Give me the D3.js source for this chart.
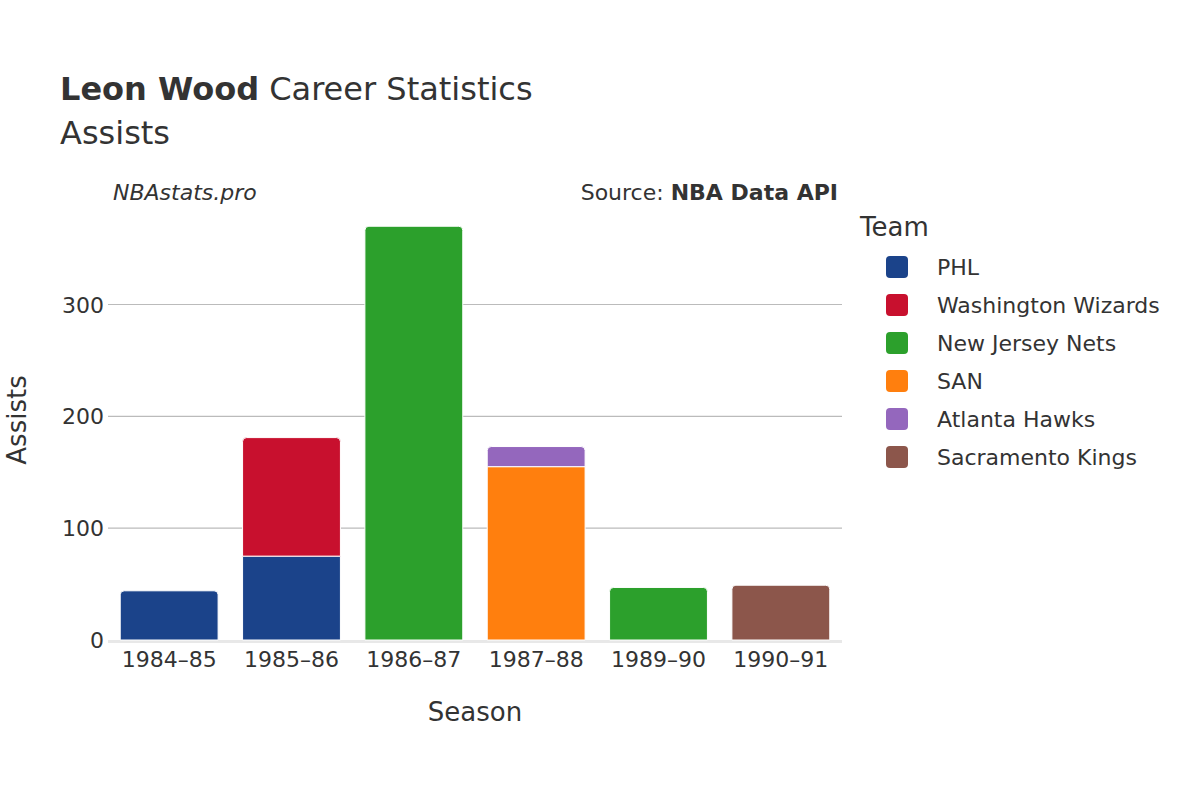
<!DOCTYPE html>
<html><head><meta charset="utf-8">
<script src="https://cdn.jsdelivr.net/npm/d3@7"></script>
<style>body{margin:0;background:#fff}text{font-family:"DejaVu Sans",sans-serif;fill:#333}</style>
</head><body><svg id="c" width="1200" height="800"></svg>
<script>
const seasons=["1984–85","1985–86","1986–87","1987–88","1989–90","1990–91"];
const teams=["PHL","Washington Wizards","New Jersey Nets","SAN","Atlanta Hawks","Sacramento Kings"];
const colors=["#1b438a","#c8102e","#2ca02c","#ff7f0e","#9467bd","#8c564b"];
// values[team][season]
const PHL=[44,75,0,0,0,0];
const WAS=[0,106,0,0,0,0];
const NJN=[0,0,370,0,47,0];
const SAN=[0,0,0,155,0,0];
const ATL=[0,0,0,18,0,0];
const SAC=[0,0,0,0,0,49];
const values=[PHL,WAS,NJN,SAN,ATL,SAC];
const yTicks=[0,100,200,300];

const svg=d3.select("#c");
const L=108,R=842,T=205,B=640;
const x=d3.scaleBand().domain(seasons).range([L,R]).paddingInner(0.2).paddingOuter(0.1);
const y=d3.scaleLinear().domain([0,389]).range([B,T]);

svg.append("g").selectAll("line").data(yTicks.slice(1)).join("line")
 .attr("x1",L).attr("x2",R).attr("y1",d=>y(d)).attr("y2",d=>y(d)).attr("stroke","#bbb").attr("stroke-width",1.2);
svg.append("line").attr("x1",L).attr("x2",R).attr("y1",B+1.5).attr("y2",B+1.5).attr("stroke","#e8e8e8").attr("stroke-width",3);

function barPath(x0,w,y0,y1,r){
  r=Math.min(r,(y0-y1)/2);
  return `M${x0},${y0}V${y1+r}Q${x0},${y1} ${x0+r},${y1}H${x0+w-r}Q${x0+w},${y1} ${x0+w},${y1+r}V${y0}Z`;
}
seasons.forEach((s,i)=>{
  let cum=0;const segs=[];
  values.forEach((v,t)=>{if(v[i]>0){segs.push({t,a:cum,b:cum+v[i]});cum+=v[i];}});
  segs.forEach((sg,k)=>{
    const top=k===segs.length-1;
    svg.append("path").attr("d",barPath(x(s),x.bandwidth(),y(sg.a),y(sg.b),top?4:0))
     .attr("fill",colors[sg.t]).attr("stroke","#fff").attr("stroke-width",1);
  });
});

svg.append("g").selectAll("text").data(yTicks).join("text")
 .attr("x",L-4).attr("y",d=>y(d)+8).attr("text-anchor","end").attr("font-size",22).text(d=>d);
svg.append("g").selectAll("text").data(seasons).join("text")
 .attr("x",d=>x(d)+x.bandwidth()/2).attr("y",667).attr("text-anchor","middle").attr("font-size",22).text(d=>d);

svg.append("text").attr("x",475).attr("y",721).attr("text-anchor","middle").attr("font-size",26).text("Season");
svg.append("text").attr("transform","translate(26,420) rotate(-90)").attr("text-anchor","middle").attr("font-size",26).text("Assists");

const tt=svg.append("text").attr("x",60).attr("y",100).attr("font-size",32);
tt.append("tspan").attr("font-weight","bold").text("Leon Wood");
tt.append("tspan").text(" Career Statistics");
svg.append("text").attr("x",60).attr("y",144).attr("font-size",32).text("Assists");
svg.append("text").attr("x",113).attr("y",200).attr("font-size",22).attr("font-style","italic").text("NBAstats.pro");
const src=svg.append("text").attr("x",838).attr("y",200).attr("font-size",22).attr("text-anchor","end");
src.append("tspan").text("Source: ");
src.append("tspan").attr("font-weight","bold").text("NBA Data API");

svg.append("text").attr("x",860).attr("y",236).attr("font-size",26).text("Team");
const lg=svg.append("g").selectAll("g").data(teams).join("g").attr("transform",(d,i)=>`translate(0,${267+i*38})`);
lg.append("rect").attr("x",886).attr("y",-11).attr("width",22).attr("height",22).attr("rx",4).attr("fill",(d,i)=>colors[i]);
lg.append("text").attr("x",937).attr("y",8).attr("font-size",22).text(d=>d);
</script></body></html>
